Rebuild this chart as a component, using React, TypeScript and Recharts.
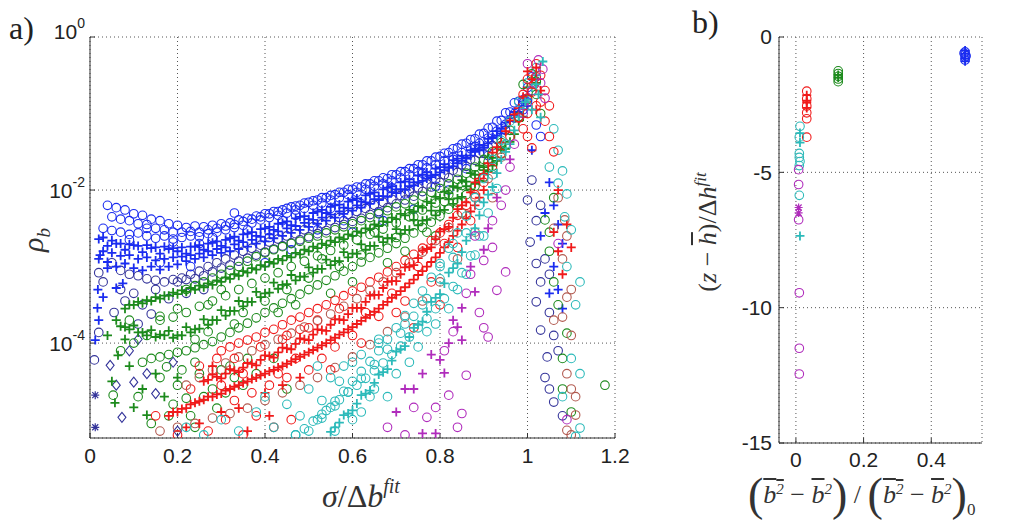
import { ScatterChart, Scatter, XAxis, YAxis, CartesianGrid } from 'recharts'

type Pt = [number, number]

// panel a: x = sigma / delta b_fit, y = log10(rho_b)
const xTicksA = [0, 0.2, 0.4, 0.6, 0.8, 1, 1.2]
const yTicksA = [-4, -2, 0]

const blueRingTop: Pt[] = [[0.04,-2.2],[0.06,-2.23],[0.08,-2.26],[0.1,-2.31],[0.12,-2.33],[0.14,-2.38],[0.16,-2.4],[0.18,-2.44],[0.2,-2.46],[0.22,-2.49],[0.24,-2.47],[0.26,-2.48],[0.28,-2.46],[0.3,-2.44],[0.32,-2.43],[0.34,-2.39],[0.36,-2.37],[0.38,-2.34],[0.4,-2.31],[0.42,-2.28],[0.44,-2.26],[0.46,-2.22],[0.48,-2.2],[0.5,-2.16],[0.52,-2.13],[0.54,-2.1],[0.56,-2.06],[0.58,-2.03],[0.6,-1.99],[0.62,-1.96],[0.64,-1.92],[0.66,-1.88],[0.68,-1.85],[0.7,-1.8],[0.72,-1.76],[0.74,-1.72],[0.76,-1.67],[0.78,-1.62],[0.8,-1.56],[0.82,-1.51],[0.84,-1.45],[0.86,-1.39],[0.88,-1.33],[0.9,-1.26],[0.92,-1.18],[0.94,-1.09],[0.96,-0.98],[0.98,-0.84],[1.0,-0.66],[1.01,-0.52]]
const blueRingUpper2: Pt[] = [[0.05,-2.35],[0.07,-2.38],[0.09,-2.4],[0.11,-2.44],[0.13,-2.45],[0.15,-2.5],[0.17,-2.52],[0.19,-2.55],[0.21,-2.55],[0.23,-2.54],[0.25,-2.55],[0.27,-2.52],[0.29,-2.5],[0.31,-2.47],[0.33,-2.45],[0.35,-2.41],[0.37,-2.38],[0.39,-2.35],[0.41,-2.31],[0.43,-2.28],[0.45,-2.24],[0.47,-2.21],[0.49,-2.17],[0.51,-2.14],[0.53,-2.1],[0.55,-2.07],[0.57,-2.03],[0.59,-1.99],[0.61,-1.96],[0.63,-1.92],[0.65,-1.88],[0.67,-1.84],[0.69,-1.8],[0.71,-1.76],[0.73,-1.72],[0.75,-1.67],[0.77,-1.62],[0.79,-1.57],[0.81,-1.52],[0.83,-1.46],[0.85,-1.4],[0.87,-1.34],[0.89,-1.27],[0.91,-1.19],[0.93,-1.1],[0.95,-0.99],[0.97,-0.86]]
const blueRingMid: Pt[] = [[0.03,-2.5],[0.05,-2.53],[0.07,-2.55],[0.09,-2.58],[0.11,-2.56],[0.13,-2.6],[0.15,-2.63],[0.17,-2.6],[0.19,-2.64],[0.21,-2.62],[0.23,-2.6],[0.25,-2.61],[0.27,-2.57],[0.29,-2.55],[0.31,-2.52],[0.33,-2.49],[0.35,-2.46],[0.37,-2.43],[0.39,-2.39],[0.41,-2.36],[0.43,-2.33],[0.45,-2.3],[0.47,-2.26],[0.49,-2.24],[0.51,-2.2],[0.53,-2.17],[0.55,-2.13],[0.57,-2.1],[0.59,-2.06],[0.61,-2.03],[0.63,-1.99],[0.65,-1.95],[0.67,-1.92],[0.69,-1.88],[0.71,-1.84],[0.73,-1.8],[0.75,-1.76],[0.77,-1.71],[0.79,-1.67],[0.81,-1.62],[0.83,-1.57],[0.85,-1.51],[0.87,-1.46],[0.89,-1.39],[0.91,-1.32],[0.93,-1.23],[0.95,-1.14],[0.97,-1.0],[0.99,-0.82]]
const bluePlusUpper: Pt[] = [[0.02,-2.64],[0.04,-2.73],[0.06,-2.7],[0.08,-2.78],[0.1,-2.72],[0.12,-2.81],[0.14,-2.76],[0.16,-2.83],[0.18,-2.77],[0.2,-2.8],[0.22,-2.83],[0.24,-2.74],[0.26,-2.78],[0.28,-2.69],[0.3,-2.73],[0.32,-2.63],[0.34,-2.66],[0.36,-2.57],[0.38,-2.6],[0.4,-2.5],[0.42,-2.52],[0.44,-2.43],[0.46,-2.46],[0.48,-2.35],[0.5,-2.38],[0.52,-2.28],[0.54,-2.3],[0.56,-2.2],[0.58,-2.23],[0.6,-2.13],[0.62,-2.15],[0.64,-2.05],[0.66,-2.08],[0.68,-1.97],[0.7,-1.99],[0.72,-1.89],[0.74,-1.9],[0.76,-1.8],[0.78,-1.81],[0.8,-1.7],[0.82,-1.7],[0.84,-1.59],[0.86,-1.59],[0.88,-1.46],[0.9,-1.45],[0.92,-1.31],[0.94,-1.26],[0.96,-1.1],[0.98,-0.98],[1.0,-0.76],[1.02,-0.55]]
const bluePlusUpper2: Pt[] = [[0.03,-2.62],[0.05,-2.66],[0.07,-2.7],[0.09,-2.71],[0.11,-2.73],[0.13,-2.72],[0.15,-2.75],[0.17,-2.74],[0.19,-2.76],[0.21,-2.75],[0.23,-2.74],[0.25,-2.72],[0.27,-2.7],[0.29,-2.67],[0.31,-2.65],[0.33,-2.61],[0.35,-2.58],[0.37,-2.55],[0.39,-2.51],[0.41,-2.48],[0.43,-2.44],[0.45,-2.41],[0.47,-2.37],[0.49,-2.34],[0.51,-2.3],[0.53,-2.26],[0.55,-2.22],[0.57,-2.19],[0.59,-2.15],[0.61,-2.11],[0.63,-2.07],[0.65,-2.03],[0.67,-1.99],[0.69,-1.95],[0.71,-1.9],[0.73,-1.86],[0.75,-1.81],[0.77,-1.77],[0.79,-1.72],[0.81,-1.66],[0.83,-1.61],[0.85,-1.55],[0.87,-1.48],[0.89,-1.41],[0.91,-1.33],[0.93,-1.23],[0.95,-1.12],[0.97,-0.98],[0.99,-0.8]]
const bluePlusLower: Pt[] = [[0.02,-2.9],[0.04,-2.94],[0.06,-3.0],[0.08,-2.96],[0.1,-3.02],[0.12,-3.05],[0.14,-3.0],[0.16,-3.04],[0.18,-3.0],[0.2,-2.97],[0.22,-2.93],[0.24,-2.9],[0.26,-2.88],[0.28,-2.85],[0.3,-2.82],[0.32,-2.8],[0.34,-2.77],[0.36,-2.74],[0.38,-2.7],[0.4,-2.67],[0.42,-2.63],[0.44,-2.6],[0.46,-2.56],[0.48,-2.52],[0.5,-2.48],[0.52,-2.44],[0.54,-2.4],[0.56,-2.36],[0.58,-2.31],[0.6,-2.27],[0.62,-2.23],[0.64,-2.18],[0.66,-2.13],[0.68,-2.09],[0.7,-2.04],[0.72,-1.99],[0.74,-1.94],[0.76,-1.88],[0.78,-1.83],[0.8,-1.77],[0.82,-1.71],[0.84,-1.65],[0.86,-1.58],[0.88,-1.5],[0.9,-1.42],[0.92,-1.32],[0.94,-1.2],[0.96,-1.06]]
const bluePlusLower2: Pt[] = [[0.03,-2.8],[0.05,-2.82],[0.07,-2.86],[0.09,-2.85],[0.11,-2.9],[0.13,-2.88],[0.15,-2.92],[0.17,-2.9],[0.19,-2.88],[0.21,-2.87],[0.23,-2.85],[0.25,-2.83],[0.27,-2.8],[0.29,-2.77],[0.31,-2.75],[0.33,-2.71],[0.35,-2.68],[0.37,-2.65],[0.39,-2.61],[0.41,-2.58],[0.43,-2.54],[0.45,-2.5],[0.47,-2.47],[0.49,-2.43],[0.51,-2.39],[0.53,-2.36],[0.55,-2.32],[0.57,-2.28],[0.59,-2.24],[0.61,-2.2],[0.63,-2.16],[0.65,-2.12],[0.67,-2.08],[0.69,-2.03],[0.71,-1.99],[0.73,-1.95],[0.75,-1.9],[0.77,-1.85],[0.79,-1.8],[0.81,-1.74],[0.83,-1.69],[0.85,-1.62],[0.87,-1.55],[0.89,-1.48],[0.91,-1.39],[0.93,-1.29],[0.95,-1.17],[0.97,-1.02],[0.99,-0.84]]
const navyRing: Pt[] = [[0.05,-2.95],[0.07,-3.05],[0.09,-3.1],[0.11,-3.12],[0.13,-3.16],[0.15,-3.18],[0.17,-3.2],[0.19,-3.17],[0.21,-3.15],[0.23,-3.1],[0.25,-3.06],[0.27,-3.0],[0.29,-2.95],[0.31,-2.9],[0.33,-2.85],[0.35,-2.8],[0.37,-2.76],[0.39,-2.72],[0.41,-2.68],[0.43,-2.64],[0.45,-2.6],[0.47,-2.57],[0.49,-2.52],[0.51,-2.48],[0.53,-2.44],[0.55,-2.4],[0.57,-2.36],[0.59,-2.32],[0.61,-2.28],[0.63,-2.24],[0.65,-2.2],[0.67,-2.16],[0.69,-2.12],[0.71,-2.07],[0.73,-2.02],[0.75,-1.97],[0.77,-1.92],[0.79,-1.86],[0.81,-1.8],[0.83,-1.74],[0.85,-1.67],[0.87,-1.6],[0.89,-1.52],[0.91,-1.44],[0.93,-1.34],[0.95,-1.22],[0.97,-1.06],[0.99,-0.86]]
const navyRingLow: Pt[] = [[0.2,-3.2],[0.22,-3.17],[0.24,-3.16],[0.26,-3.12],[0.28,-3.07],[0.3,-3.02],[0.32,-2.98],[0.34,-2.93],[0.36,-2.89],[0.38,-2.85],[0.4,-2.81],[0.42,-2.77],[0.44,-2.73],[0.46,-2.69],[0.48,-2.65],[0.5,-2.61],[0.52,-2.57],[0.54,-2.53],[0.56,-2.49],[0.58,-2.45],[0.6,-2.41],[0.62,-2.37],[0.64,-2.32],[0.66,-2.28],[0.68,-2.23],[0.7,-2.18],[0.72,-2.13],[0.74,-2.08],[0.76,-2.02],[0.78,-1.96],[0.8,-1.9],[0.82,-1.84],[0.84,-1.77],[0.86,-1.69],[0.88,-1.61],[0.9,-1.52],[0.92,-1.42]]
const blueBandLoose: Pt[] = [[0.33,-2.3],[0.36,-2.52],[0.41,-2.62],[0.44,-2.4],[0.47,-2.33],[0.52,-2.52],[0.55,-2.24],[0.58,-2.4],[0.62,-2.18],[0.66,-2.3],[0.69,-1.97],[0.72,-2.05],[0.76,-1.78],[0.79,-1.95],[0.83,-1.6],[0.86,-1.72],[0.88,-1.43],[0.91,-1.55],[0.25,-2.7],[0.28,-2.62],[0.19,-2.68],[0.13,-2.5],[0.09,-2.65],[0.16,-2.95],[0.23,-3.0],[0.4,-2.95],[0.46,-2.78],[0.6,-2.55],[0.67,-2.4],[0.74,-2.25],[0.82,-2.0]]
const navyLooseRings: Pt[] = [[0.02,-3.08],[0.03,-3.2],[0.055,-3.6],[0.02,-3.86],[0.01,-4.22],[0.08,-3.45],[0.1,-3.35],[0.12,-3.5],[0.15,-3.3],[0.18,-3.42],[0.07,-3.3],[0.22,-3.35],[0.26,-3.3],[0.14,-3.62],[0.11,-3.75]]
const bluePlusLoose: Pt[] = [[0.023,-2.85],[0.018,-3.3],[0.017,-3.54],[0.02,-3.7],[0.012,-3.96],[0.06,-3.28],[0.075,-3.22],[0.04,-3.02],[0.03,-3.4]]
const blueStars: Pt[] = [[0.012,-4.68],[0.012,-5.1]]
const navyDiamonds: Pt[] = [[0.046,-4.29],[0.073,-4.97],[0.1,-4.51],[0.09,-4.1],[0.15,-4.66],[0.19,-4.25],[0.2,-5.15],[0.13,-4.4],[0.06,-4.55],[0.11,-3.95]]

const greenRingTop: Pt[] = [[0.22,-3.3],[0.24,-3.25],[0.26,-3.2],[0.28,-3.15],[0.3,-3.1],[0.32,-3.05],[0.34,-3.0],[0.36,-2.93],[0.38,-2.87],[0.4,-2.82],[0.42,-2.78],[0.44,-2.74],[0.46,-2.7],[0.48,-2.67],[0.5,-2.63],[0.52,-2.6],[0.54,-2.56],[0.56,-2.52],[0.58,-2.48],[0.6,-2.44],[0.62,-2.4],[0.64,-2.36],[0.66,-2.31],[0.68,-2.27],[0.7,-2.22],[0.72,-2.18],[0.74,-2.13],[0.76,-2.08],[0.78,-2.03],[0.8,-1.98],[0.82,-1.92],[0.84,-1.86],[0.86,-1.78],[0.88,-1.7],[0.9,-1.6],[0.92,-1.5],[0.94,-1.38],[0.96,-1.22],[0.98,-1.04],[1.0,-0.82],[1.02,-0.58]]
const greenRingMid: Pt[] = [[0.16,-3.7],[0.19,-3.66],[0.22,-3.6],[0.25,-3.52],[0.28,-3.45],[0.31,-3.38],[0.34,-3.3],[0.37,-3.22],[0.4,-3.15],[0.43,-3.08],[0.46,-3.0],[0.49,-2.93],[0.52,-2.86],[0.55,-2.79],[0.58,-2.72],[0.61,-2.65],[0.64,-2.58],[0.67,-2.51],[0.7,-2.43],[0.73,-2.35],[0.76,-2.26],[0.79,-2.17],[0.82,-2.06],[0.85,-1.94],[0.88,-1.8],[0.91,-1.63],[0.94,-1.42]]
const greenPlusMain: Pt[] = [[0.06,-3.7],[0.08,-3.79],[0.1,-3.77],[0.12,-3.86],[0.14,-3.83],[0.16,-3.89],[0.18,-3.84],[0.2,-3.9],[0.22,-3.79],[0.24,-3.82],[0.26,-3.69],[0.28,-3.7],[0.3,-3.57],[0.32,-3.58],[0.34,-3.45],[0.36,-3.46],[0.38,-3.33],[0.4,-3.35],[0.42,-3.21],[0.44,-3.24],[0.46,-3.11],[0.48,-3.13],[0.5,-3.01],[0.52,-3.03],[0.54,-2.91],[0.56,-2.93],[0.58,-2.81],[0.6,-2.83],[0.62,-2.71],[0.64,-2.73],[0.66,-2.61],[0.68,-2.63],[0.7,-2.51],[0.72,-2.52],[0.74,-2.39],[0.76,-2.4],[0.78,-2.27],[0.8,-2.27],[0.82,-2.12],[0.84,-2.11],[0.86,-1.95],[0.88,-1.92],[0.9,-1.74],[0.92,-1.68],[0.94,-1.47],[0.96,-1.37],[0.98,-1.1],[1.0,-0.9],[1.02,-0.6]]
const greenPlusMain2: Pt[] = [[0.07,-3.78],[0.09,-3.82],[0.11,-3.86],[0.13,-3.9],[0.15,-3.92],[0.17,-3.9],[0.19,-3.93],[0.21,-3.9],[0.23,-3.86],[0.25,-3.81],[0.27,-3.76],[0.29,-3.7],[0.31,-3.64],[0.33,-3.58],[0.35,-3.52],[0.37,-3.46],[0.39,-3.4],[0.41,-3.34],[0.43,-3.29],[0.45,-3.23],[0.47,-3.18],[0.49,-3.13],[0.51,-3.08],[0.53,-3.03],[0.55,-2.98],[0.57,-2.93],[0.59,-2.88],[0.61,-2.83],[0.63,-2.78],[0.65,-2.73],[0.67,-2.68],[0.69,-2.63],[0.71,-2.57],[0.73,-2.52],[0.75,-2.46],[0.77,-2.39],[0.79,-2.33],[0.81,-2.26],[0.83,-2.18],[0.85,-2.09],[0.87,-1.99],[0.89,-1.88],[0.91,-1.76],[0.93,-1.62],[0.95,-1.46],[0.97,-1.27],[0.99,-1.04]]
const greenPlusUpper: Pt[] = [[0.08,-3.55],[0.1,-3.5],[0.12,-3.48],[0.14,-3.45],[0.16,-3.42],[0.18,-3.38],[0.2,-3.36],[0.22,-3.33],[0.24,-3.3],[0.26,-3.27],[0.28,-3.24],[0.3,-3.2],[0.32,-3.16],[0.34,-3.12],[0.36,-3.08],[0.38,-3.04],[0.4,-3.0],[0.42,-2.96],[0.44,-2.92],[0.46,-2.88],[0.48,-2.84],[0.5,-2.8],[0.52,-2.76],[0.54,-2.72],[0.56,-2.68],[0.58,-2.64],[0.6,-2.6],[0.62,-2.56],[0.64,-2.51],[0.66,-2.47],[0.68,-2.42],[0.7,-2.38],[0.72,-2.33],[0.74,-2.28],[0.76,-2.23],[0.78,-2.17],[0.8,-2.11],[0.82,-2.04],[0.84,-1.97],[0.86,-1.89],[0.88,-1.8],[0.9,-1.7],[0.92,-1.58],[0.94,-1.44]]
const greenPlusUpper2: Pt[] = [[0.09,-3.5],[0.11,-3.46],[0.13,-3.44],[0.15,-3.4],[0.17,-3.38],[0.19,-3.34],[0.21,-3.31],[0.23,-3.28],[0.25,-3.25],[0.27,-3.22],[0.29,-3.18],[0.31,-3.14],[0.33,-3.1],[0.35,-3.06],[0.37,-3.02],[0.39,-2.98],[0.41,-2.94],[0.43,-2.9],[0.45,-2.86],[0.47,-2.82],[0.49,-2.78],[0.51,-2.74],[0.53,-2.7],[0.55,-2.66],[0.57,-2.62],[0.59,-2.58],[0.61,-2.54],[0.63,-2.5],[0.65,-2.45],[0.67,-2.41],[0.69,-2.36],[0.71,-2.31],[0.73,-2.26],[0.75,-2.21],[0.77,-2.15],[0.79,-2.09],[0.81,-2.02],[0.83,-1.95],[0.85,-1.87],[0.87,-1.78],[0.89,-1.68],[0.91,-1.57]]
const greenRingLow: Pt[] = [[0.14,-4.2],[0.16,-4.18],[0.18,-4.15],[0.2,-4.12],[0.22,-4.1],[0.24,-4.06],[0.26,-4.02],[0.28,-3.98],[0.3,-3.92],[0.32,-3.86],[0.34,-3.8],[0.36,-3.74],[0.38,-3.67],[0.4,-3.6],[0.42,-3.54],[0.44,-3.48],[0.46,-3.42],[0.48,-3.36],[0.5,-3.3],[0.52,-3.24],[0.54,-3.18],[0.56,-3.12],[0.58,-3.06],[0.6,-3.0],[0.62,-2.94],[0.64,-2.88],[0.66,-2.82],[0.68,-2.76],[0.7,-2.7],[0.72,-2.63],[0.74,-2.56],[0.76,-2.49],[0.78,-2.42],[0.8,-2.34],[0.82,-2.25],[0.84,-2.16],[0.86,-2.06],[0.88,-1.95],[0.9,-1.83],[0.92,-1.69],[0.94,-1.53]]
const greenBandLoose: Pt[] = [[0.3,-3.3],[0.35,-3.6],[0.4,-3.45],[0.45,-3.3],[0.5,-3.15],[0.53,-2.9],[0.57,-3.0],[0.62,-2.85],[0.65,-2.55],[0.7,-2.62],[0.74,-2.35],[0.77,-2.55],[0.81,-2.15],[0.85,-2.3],[0.2,-3.55],[0.24,-3.95],[0.27,-3.85],[0.33,-3.75],[0.43,-3.6],[0.47,-3.5],[0.55,-3.35],[0.6,-3.2],[0.68,-2.95],[0.72,-2.8],[0.79,-2.6]]
const greenPlusLoose: Pt[] = [[0.05,-4.5],[0.1,-4.84],[0.12,-4.6],[0.13,-4.94],[0.057,-4.78],[0.064,-4.16],[0.09,-4.3],[0.08,-3.95],[0.15,-4.4],[0.17,-4.7],[0.04,-3.9],[0.2,-4.45]]
const greenLooseRings: Pt[] = [[0.053,-4.68],[0.175,-4.31],[0.2,-4.55],[0.22,-4.72],[0.25,-4.4],[0.18,-4.95],[0.28,-4.6],[0.14,-5.05],[0.24,-5.1],[0.3,-4.35],[0.27,-3.5],[0.33,-4.45],[0.36,-4.2],[0.12,-4.25],[0.09,-3.7],[0.16,-3.65],[0.1,-4.0],[0.13,-3.9],[0.16,-4.45],[0.19,-4.8],[0.21,-4.35],[0.23,-4.95],[0.26,-4.7],[0.29,-4.85],[0.32,-4.3],[0.35,-4.55],[0.07,-4.1],[0.11,-4.7],[0.24,-4.25],[0.31,-4.65],[0.38,-4.4],[0.42,-4.2],[0.45,-4.6]]

const redRingTop: Pt[] = [[0.3,-4.1],[0.32,-4.05],[0.34,-4.0],[0.36,-3.96],[0.38,-3.92],[0.4,-3.86],[0.42,-3.82],[0.44,-3.76],[0.46,-3.7],[0.48,-3.66],[0.5,-3.6],[0.52,-3.55],[0.54,-3.5],[0.56,-3.44],[0.58,-3.38],[0.6,-3.32],[0.62,-3.27],[0.64,-3.2],[0.66,-3.14],[0.68,-3.07],[0.7,-3.0],[0.72,-2.92],[0.74,-2.84],[0.76,-2.76],[0.78,-2.66],[0.8,-2.56],[0.82,-2.45],[0.84,-2.33],[0.86,-2.2],[0.88,-2.06],[0.9,-1.9],[0.92,-1.72],[0.94,-1.52],[0.96,-1.3],[0.98,-1.06],[1.0,-0.8],[1.02,-0.52]]
const redRingMid: Pt[] = [[0.22,-4.55],[0.25,-4.45],[0.28,-4.35],[0.31,-4.26],[0.34,-4.18],[0.37,-4.1],[0.4,-4.02],[0.43,-3.95],[0.46,-3.87],[0.49,-3.79],[0.52,-3.71],[0.55,-3.62],[0.58,-3.52],[0.61,-3.42],[0.64,-3.31],[0.67,-3.2],[0.7,-3.08],[0.73,-2.95],[0.76,-2.81],[0.79,-2.66],[0.82,-2.49],[0.85,-2.3],[0.88,-2.09],[0.91,-1.85],[0.94,-1.57]]
const redPlusMain: Pt[] = [[0.26,-4.5],[0.28,-4.41],[0.3,-4.46],[0.32,-4.34],[0.34,-4.38],[0.36,-4.26],[0.38,-4.29],[0.4,-4.16],[0.42,-4.19],[0.44,-4.06],[0.46,-4.08],[0.48,-3.94],[0.5,-3.96],[0.52,-3.82],[0.54,-3.84],[0.56,-3.69],[0.58,-3.7],[0.6,-3.54],[0.62,-3.54],[0.64,-3.38],[0.66,-3.37],[0.68,-3.2],[0.7,-3.19],[0.72,-3.01],[0.74,-2.98],[0.76,-2.79],[0.78,-2.75],[0.8,-2.54],[0.82,-2.48],[0.84,-2.25],[0.86,-2.16],[0.88,-1.9],[0.9,-1.79],[0.92,-1.51],[0.94,-1.38],[0.96,-1.09],[0.98,-0.93],[1.0,-0.66]]
const redPlusMain2: Pt[] = [[0.27,-4.48],[0.29,-4.44],[0.31,-4.4],[0.33,-4.36],[0.35,-4.32],[0.37,-4.27],[0.39,-4.22],[0.41,-4.17],[0.43,-4.12],[0.45,-4.07],[0.47,-4.01],[0.49,-3.95],[0.51,-3.89],[0.53,-3.83],[0.55,-3.76],[0.57,-3.69],[0.59,-3.62],[0.61,-3.54],[0.63,-3.46],[0.65,-3.37],[0.67,-3.28],[0.69,-3.19],[0.71,-3.1],[0.73,-3.0],[0.75,-2.89],[0.77,-2.77],[0.79,-2.64],[0.81,-2.51],[0.83,-2.36],[0.85,-2.2],[0.87,-2.03],[0.89,-1.85],[0.91,-1.65],[0.93,-1.44],[0.95,-1.23],[0.97,-1.01],[0.99,-0.78]]
const redPlusLow: Pt[] = [[0.18,-4.95],[0.2,-4.9],[0.22,-4.85],[0.24,-4.78],[0.26,-4.74],[0.28,-4.7],[0.3,-4.66],[0.32,-4.6],[0.34,-4.55],[0.36,-4.5],[0.38,-4.45],[0.4,-4.4],[0.42,-4.35],[0.44,-4.3],[0.46,-4.24],[0.48,-4.18],[0.5,-4.12],[0.52,-4.06],[0.54,-4.0],[0.56,-3.93],[0.58,-3.86],[0.6,-3.79],[0.62,-3.71],[0.64,-3.63],[0.66,-3.55],[0.68,-3.46],[0.7,-3.37],[0.72,-3.27],[0.74,-3.17],[0.76,-3.06],[0.78,-2.94],[0.8,-2.82],[0.82,-2.68],[0.84,-2.53],[0.86,-2.37],[0.88,-2.2],[0.9,-2.0]]
const redPlusLow2: Pt[] = [[0.19,-4.9],[0.21,-4.86],[0.23,-4.8],[0.25,-4.76],[0.27,-4.7],[0.29,-4.67],[0.31,-4.62],[0.33,-4.57],[0.35,-4.52],[0.37,-4.47],[0.39,-4.42],[0.41,-4.37],[0.43,-4.32],[0.45,-4.27],[0.47,-4.21],[0.49,-4.15],[0.51,-4.09],[0.53,-4.03],[0.55,-3.96],[0.57,-3.89],[0.59,-3.82],[0.61,-3.75],[0.63,-3.67],[0.65,-3.59],[0.67,-3.5],[0.69,-3.41],[0.71,-3.32],[0.73,-3.22],[0.75,-3.11],[0.77,-3.0],[0.79,-2.88],[0.81,-2.75],[0.83,-2.6],[0.85,-2.45],[0.87,-2.28],[0.89,-2.1]]
const brownRingLow: Pt[] = [[0.16,-5.15],[0.2,-5.1],[0.24,-5.05],[0.28,-4.98],[0.32,-4.92],[0.36,-4.85],[0.4,-4.75],[0.44,-4.65],[0.48,-4.55],[0.52,-4.45],[0.56,-4.32],[0.6,-4.18],[0.64,-4.02],[0.68,-3.85],[0.72,-3.66],[0.76,-3.45],[0.8,-3.2],[0.84,-2.9],[0.88,-2.55],[0.92,-2.1]]
const redBandLoose: Pt[] = [[0.35,-4.4],[0.39,-4.05],[0.43,-4.4],[0.47,-4.2],[0.5,-3.8],[0.53,-4.2],[0.57,-3.55],[0.6,-3.9],[0.63,-3.6],[0.66,-3.65],[0.69,-3.35],[0.72,-3.45],[0.75,-3.0],[0.78,-3.2],[0.81,-2.7],[0.84,-2.75],[0.87,-2.4],[0.3,-4.55],[0.33,-4.2],[0.45,-3.9],[0.55,-4.35],[0.62,-4.0],[0.7,-3.6],[0.74,-3.8],[0.8,-3.5]]
const redLooseRings: Pt[] = [[0.15,-4.95],[0.2,-5.2],[0.23,-4.6],[0.27,-5.15],[0.31,-5.0],[0.35,-5.2],[0.38,-4.95],[0.42,-5.1],[0.46,-5.0],[0.25,-4.3],[0.29,-4.2],[0.33,-4.75],[0.37,-4.65],[0.41,-4.55],[0.45,-4.45],[0.5,-4.35],[0.44,-3.95],[0.48,-3.82],[0.52,-3.7],[0.56,-4.05]]
const redLoosePlus: Pt[] = [[0.22,-5.1],[0.25,-5.05],[0.3,-4.9],[0.34,-4.85],[0.4,-4.65],[0.44,-4.55],[0.48,-4.45],[0.36,-5.15],[0.28,-4.3],[0.41,-4.95]]

const cyanPlusMain: Pt[] = [[0.56,-5.1],[0.58,-4.94],[0.6,-4.88],[0.62,-4.68],[0.64,-4.62],[0.66,-4.41],[0.68,-4.34],[0.7,-4.11],[0.72,-4.04],[0.74,-3.8],[0.76,-3.72],[0.78,-3.46],[0.8,-3.36],[0.82,-3.08],[0.84,-2.96],[0.86,-2.66],[0.88,-2.5],[0.9,-2.16],[0.92,-1.96],[0.94,-1.6],[0.96,-1.4],[0.98,-1.04],[1.0,-0.82],[1.02,-0.5]]
const cyanPlusMain2: Pt[] = [[0.55,-5.16],[0.57,-5.04],[0.59,-4.92],[0.61,-4.79],[0.63,-4.66],[0.65,-4.52],[0.67,-4.38],[0.69,-4.23],[0.71,-4.08],[0.73,-3.92],[0.75,-3.76],[0.77,-3.59],[0.79,-3.41],[0.81,-3.22],[0.83,-3.02],[0.85,-2.81],[0.87,-2.58],[0.89,-2.33],[0.91,-2.06],[0.93,-1.78],[0.95,-1.5],[0.97,-1.22],[0.99,-0.94],[1.01,-0.66]]
const cyanRingTop: Pt[] = [[0.52,-5.0],[0.54,-4.88],[0.56,-4.76],[0.58,-4.63],[0.6,-4.5],[0.62,-4.37],[0.64,-4.24],[0.66,-4.1],[0.68,-3.95],[0.7,-3.8],[0.72,-3.64],[0.74,-3.48],[0.76,-3.32],[0.78,-3.14],[0.8,-2.96],[0.82,-2.76],[0.84,-2.56],[0.86,-2.34],[0.88,-2.1],[0.9,-1.85],[0.92,-1.6],[0.94,-1.35],[0.96,-1.1],[0.98,-0.85],[1.0,-0.6],[1.02,-0.4]]
const cyanRingMid: Pt[] = [[0.5,-5.15],[0.53,-4.98],[0.56,-4.82],[0.59,-4.64],[0.62,-4.46],[0.65,-4.28],[0.68,-4.08],[0.71,-3.87],[0.74,-3.65],[0.77,-3.42],[0.8,-3.16],[0.83,-2.88],[0.86,-2.56],[0.89,-2.2],[0.92,-1.8],[0.95,-1.4]]
const cyanRingLow: Pt[] = [[0.47,-5.2],[0.49,-5.12],[0.51,-5.02],[0.53,-4.93],[0.55,-4.84],[0.57,-4.74],[0.59,-4.64],[0.61,-4.55],[0.63,-4.46],[0.65,-4.36],[0.67,-4.26],[0.69,-4.15],[0.71,-4.04],[0.73,-3.92],[0.75,-3.8],[0.77,-3.68],[0.79,-3.55],[0.81,-3.42],[0.83,-3.26],[0.85,-3.08],[0.87,-2.86],[0.89,-2.6],[0.91,-2.3],[0.93,-1.98]]
const cyanBandLoose: Pt[] = [[0.62,-4.9],[0.65,-4.6],[0.68,-4.7],[0.7,-4.4],[0.73,-4.25],[0.75,-4.05],[0.77,-3.85],[0.79,-3.75],[0.82,-3.55],[0.84,-3.3],[0.86,-3.1],[0.88,-2.85],[0.9,-2.6],[0.72,-3.75],[0.76,-3.5],[0.8,-3.0],[0.83,-2.7],[0.6,-4.25],[0.57,-4.5],[0.66,-4.0]]
const cyanLooseRings: Pt[] = [[0.22,-5.1],[0.26,-5.2],[0.3,-5.0],[0.34,-5.15],[0.38,-4.9],[0.42,-5.1],[0.45,-4.8],[0.48,-4.95],[0.5,-4.6],[0.53,-4.75],[0.55,-4.45],[0.58,-4.3],[0.6,-5.0],[0.62,-4.15],[0.64,-4.7],[0.66,-3.95],[0.56,-5.15],[0.47,-5.2],[0.4,-4.7],[0.52,-4.3]]

const magentaRings: Pt[] = [[0.95,-3.07],[0.93,-3.31],[0.91,-3.92],[0.89,-3.6],[0.9,-2.92],[0.86,-4.42],[0.82,-4.68],[0.85,-4.92],[0.84,-5.1],[0.79,-4.84],[0.74,-4.84],[0.77,-4.97],[0.68,-5.1],[0.88,-2.6],[0.92,-2.4],[0.94,-2.2],[0.96,-1.7],[0.97,-1.4],[0.99,-1.0],[1.01,-0.7],[1.02,-0.45],[1.0,-0.35],[0.87,-3.1],[0.83,-3.85],[0.81,-4.1],[0.86,-3.35],[0.9,-3.8],[0.72,-5.2],[0.92,-2.75],[0.95,-2.0]]
const magentaPlus: Pt[] = [[0.85,-3.54],[0.84,-3.79],[0.85,-3.96],[0.81,-4.39],[0.8,-4.22],[0.88,-3.33],[0.9,-2.78],[0.72,-4.6],[0.74,-4.6],[0.78,-4.15],[0.7,-4.9],[0.76,-5.18],[0.79,-5.18],[0.76,-4.4],[0.87,-3.0],[0.91,-2.5],[0.93,-2.1],[0.96,-1.6],[1.0,-0.9],[0.82,-4.0],[0.83,-3.7]]

// peak and the steep fall beyond sigma = delta b_fit
const peakRings: Pt[] = [[1.03,-0.5],[1.015,-0.62],[1.0,-0.55],[1.01,-0.72],[1.03,-0.85],[1.04,-1.1],[0.99,-0.75],[1.0,-1.0],[1.02,-0.9],[1.04,-0.7],[1.05,-1.3],[1.06,-1.5],[1.05,-0.9],[0.98,-1.05],[0.99,-1.2],[1.0,-1.3],[1.01,-1.45],[1.02,-0.35]]
const peakGreenRings: Pt[] = [[1.01,-0.48],[1.02,-0.75],[0.99,-0.62],[1.03,-1.0]]
const peakBlueRings: Pt[] = [[1.0,-0.85],[1.02,-1.15],[1.03,-1.3],[0.99,-0.95]]
const peakMagentaRings: Pt[] = [[1.03,-0.6],[1.04,-0.8],[1.035,-0.42],[1.025,-0.3]]
const peakRedPlus: Pt[] = [[1.02,-0.4],[1.01,-0.55],[1.03,-0.7],[1.0,-0.45],[1.02,-0.95]]
const peakCyanPlus: Pt[] = [[1.035,-0.32],[1.02,-0.62],[1.01,-0.95],[1.03,-1.05],[0.995,-0.85],[1.025,-0.75]]
const tailNavy: Pt[] = [[1.006,-2.68],[1.02,-2.96],[1.02,-3.46],[1.03,-3.83],[1.045,-4.18],[1.06,-4.77],[1.0,-2.13],[1.01,-1.87],[1.03,-3.2],[1.05,-3.6],[1.04,-4.45],[1.02,-2.4],[1.03,-2.2],[1.04,-2.9],[1.05,-3.1],[1.06,-3.9],[1.07,-4.1],[1.05,-4.6],[1.08,-4.95]]
const tailBluePlus: Pt[] = [[1.01,-1.48],[1.04,-2.3],[1.06,-3.0],[1.07,-3.3],[1.05,-1.9],[1.03,-2.6],[1.06,-2.2],[1.07,-2.45],[1.08,-2.7],[1.08,-3.55],[1.05,-3.35]]
const tailGreen: Pt[] = [[1.04,-2.39],[1.05,-2.8],[1.07,-3.5],[1.09,-3.87],[1.08,-4.6],[1.177,-4.55],[1.06,-2.1],[1.06,-3.2],[1.08,-4.2],[1.1,-4.9],[1.05,-2.55]]
const tailBrown: Pt[] = [[1.08,-3.66],[1.1,-3.9],[1.09,-4.4],[1.11,-4.94],[1.09,-5.14],[1.06,-2.5],[1.085,-2.39],[1.1,-3.3],[1.07,-2.1],[1.08,-2.9],[1.09,-3.4],[1.1,-4.6],[1.1,-5.2],[1.11,-4.7],[1.06,-3.7],[1.09,-2.6]]
const tailRedPlus: Pt[] = [[1.06,-2.55],[1.07,-2.8],[1.08,-3.1],[1.07,-2.0],[1.09,-2.45],[1.1,-2.75]]
const tailCyan: Pt[] = [[1.1,-2.52],[1.085,-2.35],[1.12,-5.11],[1.11,-5.22],[1.08,-4.7],[1.07,-1.91],[1.07,-1.48],[1.05,-1.7],[1.12,-3.2],[1.1,-4.2],[1.06,-1.2],[1.08,-1.75],[1.09,-2.05],[1.11,-3.5],[1.09,-3.0],[1.12,-4.4]]
const tailMagenta: Pt[] = [[1.09,-5.0],[1.07,-2.7]]

// panel b: x = normalised variance, y = (z - h)/delta h_fit
const xTicksB = [0, 0.2, 0.4]
const yTicksB = [-15, -10, -5, 0]
const bBlueRings: Pt[] = [[0.5,-0.55],[0.5,-0.65],[0.5,-0.75],[0.5,-0.85],[0.497,-0.6],[0.503,-0.7]]
const bBluePlus: Pt[] = [[0.5,-0.5],[0.5,-0.62],[0.5,-0.8],[0.5,-0.9]]
const bGreenRings: Pt[] = [[0.125,-1.25],[0.125,-1.35],[0.125,-1.45],[0.125,-1.55],[0.125,-1.65]]
const bGreenPlus: Pt[] = [[0.125,-1.4],[0.125,-1.5]]
const bRedRings: Pt[] = [[0.032,-2.0],[0.032,-2.28],[0.032,-2.55],[0.032,-2.8],[0.032,-3.02],[0.032,-3.7]]
const bRedPlus: Pt[] = [[0.032,-2.15],[0.032,-2.42],[0.032,-2.62],[0.032,-2.35]]
const bCyanRings: Pt[] = [[0.012,-3.3],[0.01,-3.7],[0.01,-4.3],[0.01,-4.45],[0.012,-4.6],[0.01,-4.75],[0.01,-5.85]]
const bCyanPlus: Pt[] = [[0.012,-3.55],[0.012,-3.9],[0.012,-7.35]]
const bPurpleRings: Pt[] = [[0.008,-4.9],[0.008,-5.45],[0.008,-6.75],[0.01,-9.45],[0.01,-11.5],[0.01,-12.45]]
const bPurpleStars: Pt[] = [[0.008,-6.3],[0.008,-6.5]]

const BLUE = '#1a2cf0'
const NAVY = '#34349a'
const GREEN = '#1c8a1c'
const RED = '#f01a1a'
const BROWN = '#b25a50'
const CYAN = '#2cbaba'
const MAGENTA = '#b02cbc'

type Mark = 'ring' | 'plus' | 'diamond' | 'star'

const seriesA: { pts: Pt[]; color: string; mark: Mark }[] = [
  { pts: blueRingTop, color: BLUE, mark: 'ring' },
  { pts: blueRingUpper2, color: BLUE, mark: 'ring' },
  { pts: blueRingMid, color: BLUE, mark: 'ring' },
  { pts: navyRing, color: NAVY, mark: 'ring' },
  { pts: navyRingLow, color: NAVY, mark: 'ring' },
  { pts: blueBandLoose, color: BLUE, mark: 'ring' },
  { pts: bluePlusUpper, color: BLUE, mark: 'plus' },
  { pts: bluePlusUpper2, color: BLUE, mark: 'plus' },
  { pts: bluePlusLower, color: BLUE, mark: 'plus' },
  { pts: bluePlusLower2, color: BLUE, mark: 'plus' },
  { pts: navyLooseRings, color: NAVY, mark: 'ring' },
  { pts: bluePlusLoose, color: BLUE, mark: 'plus' },
  { pts: blueStars, color: NAVY, mark: 'star' },
  { pts: navyDiamonds, color: NAVY, mark: 'diamond' },
  { pts: greenRingTop, color: GREEN, mark: 'ring' },
  { pts: greenRingMid, color: GREEN, mark: 'ring' },
  { pts: greenRingLow, color: GREEN, mark: 'ring' },
  { pts: greenBandLoose, color: GREEN, mark: 'ring' },
  { pts: greenLooseRings, color: GREEN, mark: 'ring' },
  { pts: greenPlusMain, color: GREEN, mark: 'plus' },
  { pts: greenPlusMain2, color: GREEN, mark: 'plus' },
  { pts: greenPlusUpper, color: GREEN, mark: 'plus' },
  { pts: greenPlusUpper2, color: GREEN, mark: 'plus' },
  { pts: greenPlusLoose, color: GREEN, mark: 'plus' },
  { pts: brownRingLow, color: BROWN, mark: 'ring' },
  { pts: redLooseRings, color: RED, mark: 'ring' },
  { pts: redRingTop, color: RED, mark: 'ring' },
  { pts: redRingMid, color: BROWN, mark: 'ring' },
  { pts: redBandLoose, color: RED, mark: 'ring' },
  { pts: redPlusMain, color: RED, mark: 'plus' },
  { pts: redPlusMain2, color: RED, mark: 'plus' },
  { pts: redPlusLow, color: RED, mark: 'plus' },
  { pts: redPlusLow2, color: RED, mark: 'plus' },
  { pts: redLoosePlus, color: RED, mark: 'plus' },
  { pts: cyanLooseRings, color: CYAN, mark: 'ring' },
  { pts: cyanRingTop, color: CYAN, mark: 'ring' },
  { pts: cyanRingMid, color: CYAN, mark: 'ring' },
  { pts: cyanRingLow, color: CYAN, mark: 'ring' },
  { pts: cyanBandLoose, color: CYAN, mark: 'ring' },
  { pts: cyanPlusMain, color: CYAN, mark: 'plus' },
  { pts: cyanPlusMain2, color: CYAN, mark: 'plus' },
  { pts: magentaRings, color: MAGENTA, mark: 'ring' },
  { pts: magentaPlus, color: MAGENTA, mark: 'plus' },
  { pts: tailNavy, color: NAVY, mark: 'ring' },
  { pts: tailBluePlus, color: BLUE, mark: 'plus' },
  { pts: tailGreen, color: GREEN, mark: 'ring' },
  { pts: tailBrown, color: BROWN, mark: 'ring' },
  { pts: tailRedPlus, color: RED, mark: 'plus' },
  { pts: tailCyan, color: CYAN, mark: 'ring' },
  { pts: tailMagenta, color: MAGENTA, mark: 'ring' },
  { pts: peakBlueRings, color: BLUE, mark: 'ring' },
  { pts: peakGreenRings, color: GREEN, mark: 'ring' },
  { pts: peakRings, color: RED, mark: 'ring' },
  { pts: peakMagentaRings, color: MAGENTA, mark: 'ring' },
  { pts: peakRedPlus, color: RED, mark: 'plus' },
  { pts: peakCyanPlus, color: CYAN, mark: 'plus' },
]

const seriesB: { pts: Pt[]; color: string; mark: Mark }[] = [
  { pts: bBlueRings, color: BLUE, mark: 'ring' },
  { pts: bBluePlus, color: BLUE, mark: 'plus' },
  { pts: bGreenRings, color: GREEN, mark: 'ring' },
  { pts: bGreenPlus, color: GREEN, mark: 'plus' },
  { pts: bRedRings, color: RED, mark: 'ring' },
  { pts: bRedPlus, color: RED, mark: 'plus' },
  { pts: bCyanRings, color: CYAN, mark: 'ring' },
  { pts: bCyanPlus, color: CYAN, mark: 'plus' },
  { pts: bPurpleRings, color: MAGENTA, mark: 'ring' },
  { pts: bPurpleStars, color: MAGENTA, mark: 'star' },
]

const toRows = (pts: Pt[]) => pts.map(([x, y]) => ({ x, y }))

function marker(mark: Mark, color: string) {
  return (p: any) => {
    const { cx, cy } = p
    if (cx == null || cy == null) return <g />
    if (mark === 'ring') return <circle cx={cx} cy={cy} r={4.3} fill="none" stroke={color} strokeWidth={1.1} />
    if (mark === 'diamond')
      return <path d={`M${cx},${cy - 5}L${cx + 4},${cy}L${cx},${cy + 5}L${cx - 4},${cy}Z`} fill="none" stroke={color} strokeWidth={1.1} />
    if (mark === 'star')
      return <path d={`M${cx - 4},${cy}H${cx + 4}M${cx},${cy - 4}V${cy + 4}M${cx - 3},${cy - 3}L${cx + 3},${cy + 3}M${cx - 3},${cy + 3}L${cx + 3},${cy - 3}`} stroke={color} strokeWidth={1.2} />
    return <path d={`M${cx - 4.5},${cy}H${cx + 4.5}M${cx},${cy - 4.5}V${cy + 4.5}`} stroke={color} strokeWidth={1.8} />
  }
}

const SANS = '"Liberation Sans", Arial, sans-serif'
const SERIF = '"Liberation Serif", "Times New Roman", serif'
const AXIS = '#333'
const tickFont = { fontSize: 21, fill: '#222', fontFamily: SANS }

function PowerTick({ x, y, payload }: any) {
  const lift = payload.value === 0 ? -6 : 0
  return (
    <text x={x} y={y + 8 + lift} textAnchor="end" fontSize={21} fill="#222" fontFamily={SANS}>
      10
      <tspan dy={-11} fontSize={14}>{payload.value}</tspan>
    </text>
  )
}

function PanelA() {
  return (
    <ScatterChart width={640} height={523} margin={{ top: 37, right: 25, bottom: 0, left: 0 }}>
      <CartesianGrid stroke="#555" strokeDasharray="1 3" />
      <XAxis type="number" dataKey="x" domain={[0, 1.2]} ticks={xTicksA} allowDataOverflow height={85}
        stroke={AXIS} tickSize={-5} tickMargin={15} tick={tickFont} />
      <YAxis type="number" dataKey="y" domain={[-5.24, 0]} ticks={yTicksA} allowDataOverflow width={90}
        stroke={AXIS} tickSize={-5} tickMargin={10} tick={<PowerTick />} />
      <XAxis xAxisId="top" orientation="top" type="number" domain={[0, 1.2]} ticks={xTicksA} height={0}
        stroke={AXIS} tickSize={-5} tick={false} />
      <YAxis yAxisId="right" orientation="right" type="number" domain={[-5.24, 0]} ticks={yTicksA} width={0}
        stroke={AXIS} tickSize={-5} tick={false} />
      {seriesA.map((s, i) => (
        <Scatter key={i} data={toRows(s.pts)} shape={marker(s.mark, s.color)} isAnimationActive={false} />
      ))}
    </ScatterChart>
  )
}

function PanelB() {
  return (
    <ScatterChart width={375} height={523} margin={{ top: 37, right: 33, bottom: 0, left: 0 }}>
      <CartesianGrid stroke="#555" strokeDasharray="1 3" />
      <XAxis type="number" dataKey="x" domain={[-0.05, 0.55]} ticks={xTicksB} allowDataOverflow height={80}
        stroke={AXIS} tickSize={-5} tickMargin={14} tick={tickFont} />
      <YAxis type="number" dataKey="y" domain={[-15, 0]} ticks={yTicksB} allowDataOverflow width={139}
        stroke={AXIS} tickSize={-5} tickMargin={12} tick={tickFont} />
      <XAxis xAxisId="top" orientation="top" type="number" domain={[-0.05, 0.55]} ticks={xTicksB} height={0}
        stroke={AXIS} tickSize={-5} tick={false} />
      <YAxis yAxisId="right" orientation="right" type="number" domain={[-15, 0]} ticks={yTicksB} width={0}
        stroke={AXIS} tickSize={-5} tick={false} />
      {seriesB.map((s, i) => (
        <Scatter key={i} data={toRows(s.pts)} shape={marker(s.mark, s.color)} isAnimationActive={false} />
      ))}
    </ScatterChart>
  )
}

const over = { textDecoration: 'overline' } as const
const sup2 = { fontSize: 15, position: 'relative', top: -9 } as const
const bigParen = { fontSize: 46, fontWeight: 300 } as const

export default function App() {
  return (
    <div style={{ position: 'absolute', left: 0, top: 0, width: 1015, height: 523, background: '#fff', overflow: 'hidden' }}>
      <div style={{ position: 'absolute', left: 0, top: 0 }}><PanelA /></div>
      <div style={{ position: 'absolute', left: 640, top: 0 }}><PanelB /></div>

      <div style={{ position: 'absolute', left: 9, top: 10, fontFamily: SERIF, fontSize: 32, color: '#222' }}>a)</div>
      <div style={{ position: 'absolute', left: 692, top: 4, fontFamily: SERIF, fontSize: 32, color: '#222' }}>b)</div>

      <div style={{ position: 'absolute', left: 33, top: 240, transform: 'translate(-50%, -50%) rotate(-90deg)',
        fontFamily: SERIF, fontStyle: 'italic', fontSize: 30, color: '#333', whiteSpace: 'nowrap' }}>
        ρ<span style={{ fontSize: 19, position: 'relative', top: 7 }}>b</span>
      </div>

      <div style={{ position: 'absolute', left: 322, top: 478, fontFamily: SERIF, fontStyle: 'italic', fontSize: 32,
        color: '#333', whiteSpace: 'nowrap' }}>
        σ<span style={{ fontStyle: 'normal' }}>/Δ</span>b
        <span style={{ fontSize: 20, position: 'relative', top: -14 }}>fit</span>
      </div>

      <div style={{ position: 'absolute', left: 708, top: 232, transform: 'translate(-50%, -50%) rotate(-90deg)',
        fontFamily: SERIF, fontSize: 26, color: '#333', whiteSpace: 'nowrap' }}>
        (<i>z</i> − <i style={over}>h</i>)/Δ<i>h</i>
        <i style={{ fontSize: 17, position: 'relative', top: -10 }}>fit</i>
      </div>

      <div style={{ position: 'absolute', left: 748, top: 468, fontFamily: SERIF, fontSize: 26, color: '#333',
        whiteSpace: 'nowrap', display: 'flex', alignItems: 'center' }}>
        <span style={bigParen}>(</span>
        <i style={over}>b<span style={sup2}>2</span></i>
        <span>&nbsp;−&nbsp;</span>
        <i><span style={over}>b</span><span style={sup2}>2</span></i>
        <span style={bigParen}>)</span>
        <span>&nbsp;/&nbsp;</span>
        <span style={bigParen}>(</span>
        <i style={over}>b<span style={sup2}>2</span></i>
        <span>&nbsp;−&nbsp;</span>
        <i><span style={over}>b</span><span style={sup2}>2</span></i>
        <span style={bigParen}>)</span>
        <span style={{ fontSize: 17, position: 'relative', top: 15 }}>0</span>
      </div>
    </div>
  )
}
